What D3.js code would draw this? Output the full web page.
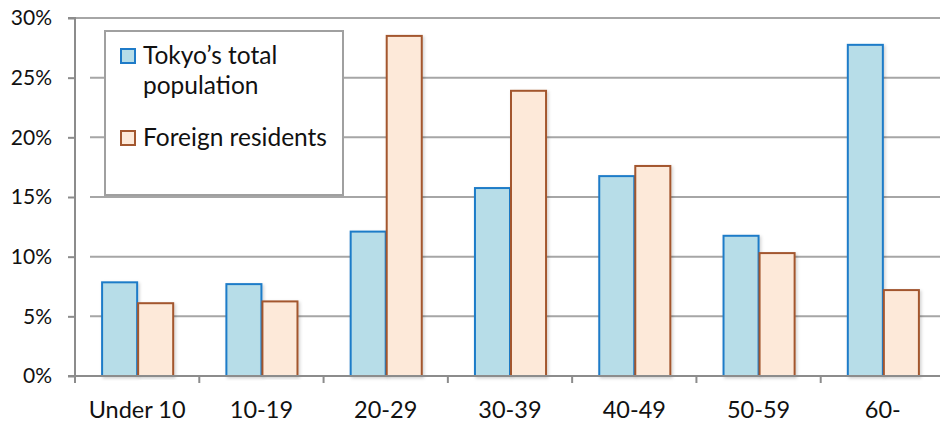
<!DOCTYPE html>
<html><head><meta charset="utf-8">
<script src="https://cdn.jsdelivr.net/npm/d3@7"></script>
<style>body{margin:0;background:#fff}svg{display:block}text{font-family:Lato,"Open Sans",sans-serif;fill:#111}</style>
</head><body><svg id="c" width="940" height="423"></svg>
<script>
const categories = ["Under 10","10-19","20-29","30-39","40-49","50-59","60-"];
const tokyo = [7.85,7.7,12.1,15.75,16.75,11.75,27.75];
const foreign = [6.1,6.25,28.5,23.9,17.6,10.3,7.2];
const yTicks = [0,5,10,15,20,25,30];
const seriesNames = ["Tokyo\u2019s total population","Foreign residents"];

const svg = d3.select("#c");
const m = {l:75, r:-5, t:18, b:47};
const W = 940, H = 423;
const x = d3.scaleBand().domain(categories).range([m.l, W - m.r]).paddingInner(0.42).paddingOuter(0.21);
const x1 = d3.scaleBand().domain([0,1]).range([0, x.bandwidth()]);
const y = d3.scaleLinear().domain([0,30]).range([H - m.b, m.t]);

const defs = svg.append("defs");
const f = defs.append("filter").attr("id","sh").attr("x","-20%").attr("y","-5%").attr("width","140%").attr("height","110%");
f.append("feDropShadow").attr("dx",1.5).attr("dy",1.5).attr("stdDeviation",1.5).attr("flood-color","#000").attr("flood-opacity",0.18);

// gridlines
svg.append("g").selectAll("line").data(yTicks.filter(d=>d>0)).join("line")
  .attr("x1", d => d===30 ? m.l : m.l+15).attr("x2", W)
  .attr("y1", d=>y(d)).attr("y2", d=>y(d))
  .attr("stroke","#a6a6a6").attr("stroke-width",2);

// y axis
const ya = svg.append("g").attr("transform",`translate(${m.l},0)`)
  .call(d3.axisLeft(y).tickValues(yTicks).tickFormat(d=>d+"%").tickSize(7).tickPadding(16));
ya.select(".domain").attr("stroke","#8c8c8c").attr("stroke-width",2).attr("d",`M-7,${y(30)}H0V${y(0)}`);
ya.selectAll(".tick line").attr("stroke","#8c8c8c").attr("stroke-width",2);
ya.selectAll(".tick text").attr("font-size",21).style("font-family","Lato,'Open Sans',sans-serif").attr("fill","#111");

// bars
const data = categories.map((c,i)=>({c, v:[tokyo[i], foreign[i]]}));
const fills = ["#b7dde8","#fde9d9"], strokes = ["#1f7bc8","#a3572f"];
const g = svg.append("g");
data.forEach(d => {
  d.v.forEach((v,k) => {
    g.append("rect")
      .attr("x", x(d.c) + x1(k) + 1).attr("y", y(v))
      .attr("width", x1.bandwidth() - 1).attr("height", y(0) - y(v))
      .attr("fill", fills[k]).attr("stroke", strokes[k]).attr("stroke-width",2)
      .attr("filter","url(#sh)");
  });
});

// x axis
const xa = svg.append("g").attr("transform",`translate(0,${y(0)})`);
xa.append("line").attr("x1",m.l-7).attr("x2",W).attr("stroke","#8c8c8c").attr("stroke-width",2);
const step = x.step();
const bounds = d3.range(categories.length+1).map(i => m.l + i*step);
xa.selectAll(".tk").data(bounds).join("line").attr("class","tk")
  .attr("x1",d=>d).attr("x2",d=>d).attr("y1",0).attr("y2",7).attr("stroke","#8c8c8c").attr("stroke-width",2);
xa.selectAll(".lb").data(categories).join("text").attr("class","lb")
  .attr("x", d => x(d) + x.bandwidth()/2).attr("y", 42)
  .attr("text-anchor","middle").attr("font-size",23.5).text(d=>d);

// legend
const lg = svg.append("g");
lg.append("rect").attr("x",105).attr("y",31).attr("width",238).attr("height",164)
  .attr("fill","#fff").attr("stroke","#a0a0a0").attr("stroke-width",2);
const legendRows = [
  {lines:["Tokyo\u2019s total","population"], y:56},
  {lines:["Foreign residents"], y:138}
];
legendRows.forEach((r,k) => {
  lg.append("rect").attr("x",121).attr("y",r.y-7).attr("width",14).attr("height",14)
    .attr("fill",fills[k]).attr("stroke",strokes[k]).attr("stroke-width",2);
  r.lines.forEach((t,j) => {
    lg.append("text").attr("x",143).attr("y",r.y+8+j*30).attr("font-size",24.5).text(t);
  });
});
</script></body></html>
